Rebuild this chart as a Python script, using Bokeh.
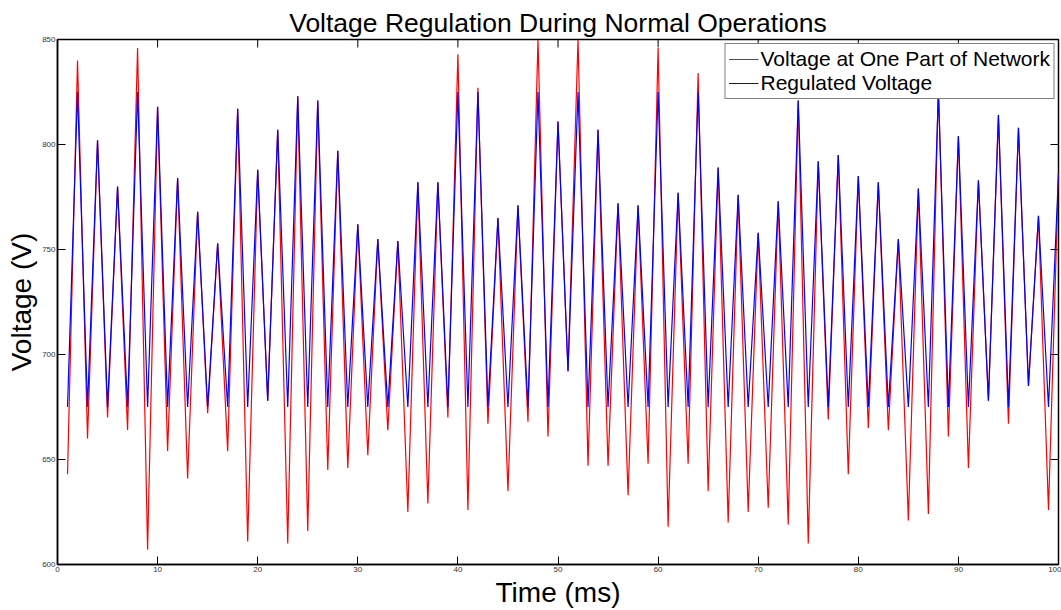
from bokeh.plotting import figure
from bokeh.models import FixedTicker, Range1d, Legend, LegendItem, ColumnDataSource
from bokeh.embed import file_html
from bokeh.resources import INLINE

# Data
time_ms = list(range(1, 101))
network_voltage = [
    643, 840, 660, 802, 670, 780, 664, 846, 607, 818,
    654, 784, 641, 768, 672, 753, 654, 817, 611, 788,
    678, 807, 610, 823, 616, 821, 645, 797, 646, 762,
    652, 755, 664, 754, 625, 782, 629, 782, 670, 843,
    626, 827, 667, 765, 635, 771, 668, 850, 661, 811,
    692, 850, 647, 807, 647, 772, 633, 771, 648, 846,
    618, 777, 648, 834, 635, 789, 620, 776, 625, 758,
    627, 773, 619, 821, 610, 792, 669, 795, 643, 785,
    665, 782, 664, 755, 621, 779, 624, 828, 661, 804,
    646, 783, 678, 814, 667, 808, 685, 766, 626, 786,
]
regulated_voltage = [
    675, 825, 675, 802, 675, 780, 675, 825, 675, 818,
    675, 784, 675, 768, 675, 753, 675, 817, 675, 788,
    678, 807, 675, 823, 675, 821, 675, 797, 675, 762,
    675, 755, 675, 754, 675, 782, 675, 782, 675, 825,
    675, 825, 675, 765, 675, 771, 675, 825, 675, 811,
    692, 825, 675, 807, 675, 772, 675, 771, 675, 825,
    675, 777, 675, 825, 675, 789, 675, 776, 675, 758,
    675, 773, 675, 821, 675, 792, 675, 795, 675, 785,
    675, 782, 675, 755, 675, 779, 675, 825, 675, 804,
    675, 783, 678, 814, 675, 808, 685, 766, 675, 786,
]
x_ticks = [0, 10, 20, 30, 40, 50, 60, 70, 80, 90, 100]
y_ticks = [600, 650, 700, 750, 800, 850]

FONT = "Liberation Sans"
X0, X1, Y0, Y1 = 0, 100, 600, 850
TICK_PX = 8
FRAME_W, FRAME_H = 1001, 527

src = ColumnDataSource(dict(t=time_ms, v=network_voltage, r=regulated_voltage))

p = figure(width=1061, height=610, x_range=Range1d(X0, X1), y_range=Range1d(Y0, Y1),
           output_backend="svg", toolbar_location=None,
           min_border_left=57, min_border_right=3, min_border_top=39, min_border_bottom=44,
           x_axis_label="Time (ms)", y_axis_label="Voltage (V)")
p.grid.visible = False
p.outline_line_color = "black"
p.outline_line_width = 1.5
p.background_fill_color = "white"
p.border_fill_color = "white"

p.title.text = "Voltage Regulation During Normal Operations"
p.title.text_font = FONT
p.title.text_font_size = "26.5px"
p.title.text_font_style = "normal"
p.title.text_color = "black"
p.title.align = "center"
p.title.standoff = 3

for ax in (p.xaxis[0], p.yaxis[0]):
    ax.major_tick_in = TICK_PX
    ax.major_tick_out = 0
    ax.minor_tick_line_color = None
    ax.axis_line_color = "black"
    ax.axis_line_width = 1.5
    ax.major_tick_line_color = "black"
    ax.major_tick_line_width = 1
    ax.major_label_text_font = FONT
    ax.major_label_text_color = "#333333"
    ax.major_label_text_font_size = "8px"
    ax.major_label_standoff = 2
    ax.axis_label_text_font = FONT
    ax.axis_label_text_font_size = "28px"
    ax.axis_label_text_font_style = "normal"
    ax.axis_label_text_color = "black"
    ax.axis_label_standoff = 2

p.xaxis.ticker = FixedTicker(ticks=x_ticks)
p.yaxis.ticker = FixedTicker(ticks=y_ticks)

# Box ticks on the top and right edges (MATLAB style), derived from the tick lists
dy = TICK_PX * (Y1 - Y0) / FRAME_H
dx = TICK_PX * (X1 - X0) / FRAME_W
p.segment(x0=x_ticks, y0=[Y1] * len(x_ticks), x1=x_ticks, y1=[Y1 - dy] * len(x_ticks),
          line_color="black", line_width=1)
p.segment(x0=[X1] * len(y_ticks), y0=y_ticks, x1=[X1 - dx] * len(y_ticks), y1=y_ticks,
          line_color="black", line_width=1)

r_red = p.line("t", "v", source=src, line_color="red", line_width=1.2)
r_blue = p.line("t", "r", source=src, line_color="blue", line_width=1.2)

legend = Legend(items=[LegendItem(label="Voltage at One Part of Network", renderers=[r_red]),
                       LegendItem(label="Regulated Voltage", renderers=[r_blue])],
                location="top_right")
legend.label_text_font = FONT
legend.label_text_font_size = "21px"
legend.label_text_color = "black"
legend.label_height = 24
legend.glyph_height = 24
legend.glyph_width = 30
legend.label_standoff = 2
legend.spacing = 0
legend.padding = 3
legend.margin = 4
legend.border_line_color = "black"
legend.border_line_width = 1
legend.background_fill_alpha = 1
p.add_layout(legend, "center")

open("out.html", "w").write(file_html(p, INLINE))
